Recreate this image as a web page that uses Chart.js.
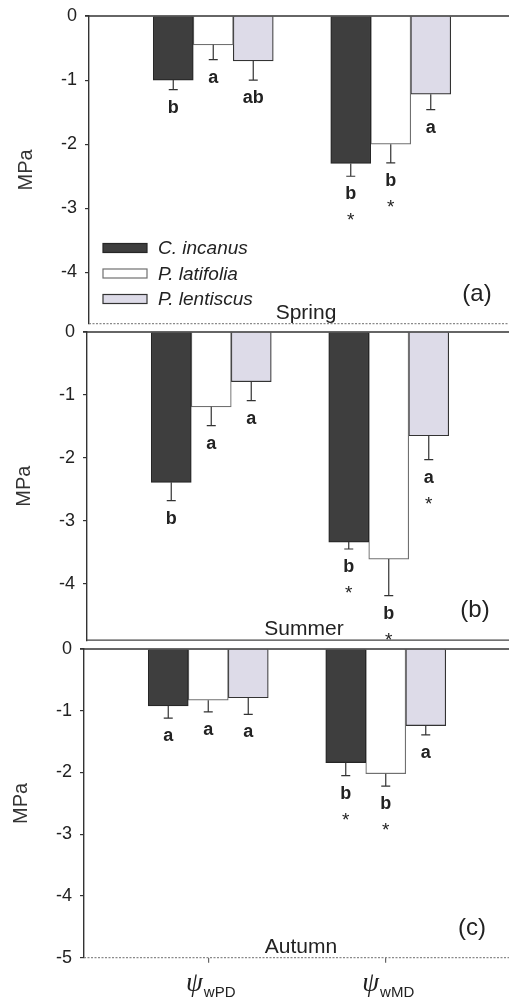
<!DOCTYPE html>
<html>
<head>
<meta charset="utf-8">
<title>Leaf water potential by season</title>
<script src="https://cdn.jsdelivr.net/npm/chart.js@4.4.1/dist/chart.umd.min.js"></script>
<style>
  html, body { margin: 0; padding: 0; background: #fff; overflow: hidden; width: 509px; height: 1002px; }
  canvas.panel { position: absolute; }
</style>
</head>
<body>
<canvas id="panelA" class="panel"></canvas>
<canvas id="panelB" class="panel"></canvas>
<canvas id="panelC" class="panel"></canvas>
<script>
// ---- data ----
const categories = ['wPD', 'wMD'];                 // ψ subscripts
const species = ['C. incanus', 'P. latifolia', 'P. lentiscus'];
const seasons = ['Spring', 'Summer', 'Autumn'];
const panelTags = ['(a)', '(b)', '(c)'];
const yTicksAB = [0, -1, -2, -3, -4];
const yTicksC = [0, -1, -2, -3, -4, -5];

// mean water potential (MPa), one row per species: [wPD, wMD]
const springMean = [[-1.00, -2.30], [-0.45, -2.00], [-0.70, -1.22]];
const springErr  = [[0.15, 0.20], [0.23, 0.29], [0.30, 0.24]];
const springLetters = [['b', 'b'], ['a', 'b'], ['ab', 'a']];
const springStars = [[false, true], [false, true], [false, false]];

const summerMean = [[-2.39, -3.34], [-1.19, -3.61], [-0.79, -1.65]];
const summerErr  = [[0.29, 0.11], [0.30, 0.58], [0.30, 0.38]];
const summerLetters = [['b', 'b'], ['a', 'b'], ['a', 'a']];
const summerStars = [[false, true], [false, true], [false, true]];

const autumnMean = [[-0.92, -1.84], [-0.83, -2.02], [-0.79, -1.24]];
const autumnErr  = [[0.20, 0.21], [0.19, 0.20], [0.27, 0.15]];
const autumnLetters = [['a', 'b'], ['a', 'b'], ['a', 'a']];
const autumnStars = [[false, true], [false, true], [false, false]];

// ---- styling ----
const FAMILY = 'Arial, "Liberation Sans", sans-serif';
Chart.defaults.font.family = FAMILY;
const fills = ['#3e3e3e', '#ffffff', '#dddbe8'];
const edges = ['#262626', '#707070', '#333333'];

// error bars, significance letters, frame, season label, legend and ψ axis labels
const figureMarks = {
  id: 'figureMarks',
  afterDatasetsDraw(chart, args, o) {
    const { ctx, chartArea: a, scales: { x, y } } = chart;
    ctx.save();

    // frame: top line at 0 MPa and bottom edge
    ctx.strokeStyle = '#333'; ctx.lineWidth = 1.5;
    ctx.beginPath(); ctx.moveTo(a.left - 4, a.top); ctx.lineTo(a.right, a.top); ctx.stroke();
    ctx.strokeStyle = o.bottomColor; ctx.lineWidth = 1.2;
    ctx.setLineDash(o.bottomDash);
    ctx.beginPath(); ctx.moveTo(a.left, a.bottom); ctx.lineTo(a.right, a.bottom); ctx.stroke();
    ctx.setLineDash([]);
    ctx.strokeStyle = '#333'; ctx.lineWidth = 1.2;
    ctx.beginPath(); ctx.moveTo(a.right, a.top); ctx.lineTo(a.right, a.bottom); ctx.stroke();

    // one-sided error bars with letters and asterisks below them
    chart.data.datasets.forEach((ds, i) => {
      const meta = chart.getDatasetMeta(i);
      meta.data.forEach((bar, j) => {
        const v = ds.data[j].y;
        const yEnd = y.getPixelForValue(v - o.errors[i][j]);
        ctx.strokeStyle = '#333'; ctx.lineWidth = 1.2;
        ctx.beginPath();
        ctx.moveTo(bar.x, bar.y); ctx.lineTo(bar.x, yEnd);
        ctx.moveTo(bar.x - 4.5, yEnd); ctx.lineTo(bar.x + 4.5, yEnd);
        ctx.stroke();
        ctx.fillStyle = '#222'; ctx.textAlign = 'center'; ctx.textBaseline = 'alphabetic';
        ctx.font = 'bold 18px ' + FAMILY;
        const base = yEnd + 23;
        ctx.fillText(o.letters[i][j], bar.x, base);
        if (o.stars[i][j]) {
          ctx.font = '19px ' + FAMILY;
          ctx.fillText('*', bar.x, base + 27);
        }
      });
    });

    // season name and panel tag
    ctx.fillStyle = '#222'; ctx.textAlign = 'center'; ctx.textBaseline = 'alphabetic';
    ctx.font = '21px ' + FAMILY;
    ctx.fillText(o.season, a.left + 217, a.bottom - 5);
    ctx.font = '24px ' + FAMILY;
    ctx.fillText(o.tag, a.left + 388, a.bottom - 23);

    // legend
    if (o.legend) {
      ctx.textAlign = 'left'; ctx.textBaseline = 'middle';
      ctx.font = 'italic 19px ' + FAMILY;
      chart.data.datasets.forEach((ds, i) => {
        const cy = a.top + 232 + i * 25.5;
        ctx.fillStyle = ds.backgroundColor;
        ctx.fillRect(a.left + 14, cy - 4.5, 44, 9);
        ctx.strokeStyle = ds.borderColor; ctx.lineWidth = 1.2;
        ctx.strokeRect(a.left + 14, cy - 4.5, 44, 9);
        ctx.fillStyle = '#222';
        ctx.fillText(ds.label, a.left + 69, cy + 1);
      });
    }

    // ψ category labels with subscripts
    if (o.xLabels) {
      ctx.textBaseline = 'alphabetic'; ctx.textAlign = 'left'; ctx.fillStyle = '#222';
      x.ticks.forEach((t, k) => {
        const px = x.getPixelForValue(t.value);
        ctx.font = 'italic 27px "Liberation Serif", "DejaVu Serif", serif';
        const wPsi = ctx.measureText('ψ').width;
        ctx.font = '15px ' + FAMILY;
        const wSub = ctx.measureText(categories[k]).width;
        const x0 = px + 2 - (wPsi + wSub) / 2;
        ctx.font = 'italic 27px "Liberation Serif", "DejaVu Serif", serif';
        ctx.fillText('ψ', x0, a.bottom + 33);
        ctx.font = '15px ' + FAMILY;
        ctx.fillText(categories[k], x0 + wPsi + 1, a.bottom + 39.5);
      });
    }
    ctx.restore();
  }
};

function buildPanel(id, pos, means, errs, letters, stars, yMin, yTicks, extra) {
  const cv = document.getElementById(id);
  cv.width = 540; cv.height = pos.height;
  cv.style.left = pos.left + 'px'; cv.style.top = pos.top + 'px';
  cv.style.width = '540px'; cv.style.height = pos.height + 'px';
  const showX = !!extra.xLabels;

  const datasets = species.map((name, i) => ({
    label: name,
    data: categories.map((c, j) => ({ x: j + 1, y: means[i][j] })),
    backgroundColor: fills[i],
    borderColor: edges[i],
    borderWidth: 1.2,
    barThickness: 40
  }));

  return new Chart(cv, {
    type: 'bar',
    data: { datasets },
    plugins: [figureMarks],
    options: {
      responsive: false,
      devicePixelRatio: 1,
      animation: false,
      events: [],
      layout: { padding: { left: 0, right: 25, top: 16, bottom: pos.padBottom } },
      plugins: {
        legend: { display: false },
        tooltip: { enabled: false },
        figureMarks: Object.assign({ errors: errs, letters, stars }, extra)
      },
      scales: {
        x: {
          type: 'linear', min: 0.3, max: 2.7,
          offset: false,
          display: showX,
          afterBuildTicks: s => { s.ticks = categories.map((c, j) => ({ value: j + 1 })); },
          afterFit: s => {
            if (showX) s.height = 44.3;
            s.paddingLeft = 0; s.paddingRight = 0;
          },
          ticks: { display: false },
          grid: { offset: false, drawOnChartArea: false, drawTicks: true, tickLength: 5, color: '#666', lineWidth: 1.2 },
          border: { display: false }
        },
        y: {
          min: yMin, max: 0,
          afterFit: s => { s.width = 89; s.paddingTop = 0; s.paddingBottom = 0; },
          afterBuildTicks: s => { s.ticks = yTicks.map(v => ({ value: v })); },
          ticks: { font: { size: 18 }, color: '#222', padding: 8, callback: v => String(v) },
          grid: { drawOnChartArea: false, drawTicks: true, tickLength: 4, color: '#333', lineWidth: 1.2 },
          border: { display: true, color: '#333', width: 1.4 },
          title: { display: true, text: 'MPa', font: { size: 20 }, color: '#333', padding: { top: 14, bottom: 0 } }
        }
      }
    }
  });
}

buildPanel('panelA', { left: 0, top: 0, height: 330, padBottom: 6.3 },
  springMean, springErr, springLetters, springStars, -4.8, yTicksAB,
  { season: seasons[0], tag: panelTags[0], legend: true, bottomColor: '#8a8a8a', bottomDash: [2, 1.5] });

buildPanel('panelB', { left: -2, top: 316, height: 345, padBottom: 20.8 },
  summerMean, summerErr, summerLetters, summerStars, -4.9, yTicksAB,
  { season: seasons[1], tag: panelTags[1], bottomColor: '#444', bottomDash: [] });

buildPanel('panelC', { left: -5, top: 633, height: 369, padBottom: 0 },
  autumnMean, autumnErr, autumnLetters, autumnStars, -5, yTicksC,
  { season: seasons[2], tag: panelTags[2], xLabels: true, bottomColor: '#8a8a8a', bottomDash: [2, 1.5] });
</script>
</body>
</html>
